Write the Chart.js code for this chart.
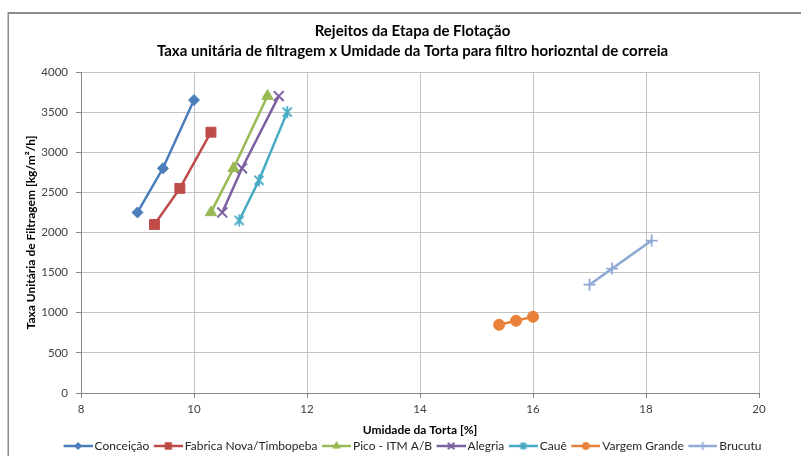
<!DOCTYPE html>
<html>
<head>
<meta charset="utf-8">
<script src="https://cdn.jsdelivr.net/npm/chart.js@4.4.1/dist/chart.umd.min.js"></script>
<style>
  html, body { margin: 0; padding: 0; background: #ffffff; }
  #wrap { width: 801px; height: 456px; position: relative; }
</style>
</head>
<body>
<div id="wrap"><canvas id="chart" width="801" height="456"></canvas></div>
<script>
// Series names (legend order)
const seriesNames = ['Conceição', 'Fabrica Nova/Timbopeba', 'Pico - ITM A/B', 'Alegria', 'Cauê', 'Vargem Grande', 'Brucutu'];

// Umidade da torta [%] and taxa unitária de filtragem [kg/m²/h] per site
const conceicaoUmidade = [9.0, 9.45, 10.0];
const conceicaoTaxa    = [2250, 2800, 3650];
const fabricaUmidade   = [9.3, 9.75, 10.3];
const fabricaTaxa      = [2100, 2550, 3250];
const picoUmidade      = [10.3, 10.7, 11.3];
const picoTaxa         = [2250, 2800, 3700];
const alegriaUmidade   = [10.5, 10.85, 11.5];
const alegriaTaxa      = [2250, 2800, 3700];
const caueUmidade      = [10.8, 11.15, 11.65];
const caueTaxa         = [2150, 2650, 3500];
const vargemUmidade    = [15.4, 15.7, 16.0];
const vargemTaxa       = [850, 900, 950];
const brucutuUmidade   = [17.0, 17.4, 18.1];
const brucutuTaxa      = [1350, 1550, 1900];

// Axis tick values
const xTicks = [8, 10, 12, 14, 16, 18, 20];
const yTicks = [0, 500, 1000, 1500, 2000, 2500, 3000, 3500, 4000];

const FONT = 'Lato, "Liberation Sans", sans-serif';
const colors = ['#4A7EBB', '#BE4B48', '#98B954', '#7D60A0', '#46AAC5', '#E8823A', '#8FA9D6'];

// Asterisk marker: an X with a vertical stroke through it
function asterisk(color, r, lw) {
  const c = document.createElement('canvas');
  const s = Math.ceil(2 * r + lw + 2);
  c.width = s; c.height = s;
  const g = c.getContext('2d');
  const m = s / 2, d = r * 0.75;
  g.strokeStyle = color; g.lineWidth = lw; g.lineCap = 'butt';
  g.beginPath();
  g.moveTo(m - d, m - d); g.lineTo(m + d, m + d);
  g.moveTo(m - d, m + d); g.lineTo(m + d, m - d);
  g.moveTo(m, m - r); g.lineTo(m, m + r);
  g.stroke();
  return c;
}

const markers = [
  { style: 'rectRot', radius: 5.5, border: 1 },
  { style: 'rect', radius: 7, border: 1 },
  { style: 'triangle', radius: 6.5, border: 1 },
  { style: 'crossRot', radius: 7, border: 2 },
  { style: 'asterisk', radius: 6, border: 1.8 },
  { style: 'circle', radius: 5.5, border: 1 },
  { style: 'cross', radius: 6, border: 1.8 }
];

const xs = [conceicaoUmidade, fabricaUmidade, picoUmidade, alegriaUmidade, caueUmidade, vargemUmidade, brucutuUmidade];
const ys = [conceicaoTaxa, fabricaTaxa, picoTaxa, alegriaTaxa, caueTaxa, vargemTaxa, brucutuTaxa];

function pointStyleFor(i, scale) {
  const mk = markers[i];
  if (mk.style === 'asterisk') return asterisk(colors[i], mk.radius * scale, mk.border);
  return mk.style;
}

const datasets = seriesNames.map((name, i) => ({
  label: name,
  data: xs[i].map((x, k) => ({ x: x, y: ys[i][k] })),
  showLine: true,
  borderColor: colors[i],
  backgroundColor: colors[i],
  borderWidth: 2.5,
  pointStyle: pointStyleFor(i, 1),
  pointRadius: markers[i].radius,
  pointBorderWidth: markers[i].border,
  pointBorderColor: colors[i],
  pointBackgroundColor: colors[i]
}));

// Legend icons: a short line with the series marker in the middle
function legendIcon(i) {
  const c = document.createElement('canvas');
  c.width = 33; c.height = 14;
  const g = c.getContext('2d');
  g.strokeStyle = colors[i]; g.fillStyle = colors[i];
  g.lineWidth = 2.5;
  g.beginPath(); g.moveTo(4, 7); g.lineTo(33, 7); g.stroke();
  const mk = markers[i];
  const style = pointStyleFor(i, 0.65);
  g.lineWidth = mk.border;
  Chart.helpers.drawPoint(g, { pointStyle: style, radius: mk.radius * 0.65, borderWidth: mk.border, rotation: 0 }, 18.5, 7);
  return c;
}
const legendIcons = seriesNames.map((_, i) => legendIcon(i));

// Outer frame of the chart
const framePlugin = {
  id: 'frame',
  beforeDraw(chart) {
    const ctx = chart.ctx;
    ctx.save();
    ctx.fillStyle = '#ffffff';
    ctx.fillRect(0, 0, chart.width, chart.height);
    ctx.strokeStyle = '#8c8c8c';
    ctx.lineWidth = 2;
    ctx.beginPath(); ctx.moveTo(8, 13); ctx.lineTo(chart.width, 13); ctx.stroke();
    ctx.lineWidth = 1.5;
    ctx.beginPath(); ctx.moveTo(8.25, 12); ctx.lineTo(8.25, chart.height); ctx.stroke();
    ctx.restore();
  }
};

const plainNumber = (v) => String(v);

new Chart(document.getElementById('chart'), {
  type: 'scatter',
  data: { datasets: datasets },
  plugins: [framePlugin],
  options: {
    responsive: false,
    animation: false,
    devicePixelRatio: 1,
    layout: { padding: { left: 8, right: -16, top: 21, bottom: -6 } },
    plugins: {
      tooltip: { enabled: false },
      title: {
        display: true,
        text: ['Rejeitos da Etapa de Flotação', 'Taxa unitária de filtragem x Umidade da Torta para filtro horiozntal de correia'],
        color: '#000000',
        font: { family: FONT, size: 15, weight: 'bold', lineHeight: 20 / 15 },
        padding: { top: 0, bottom: 11 }
      },
      legend: {
        position: 'bottom',
        labels: {
          usePointStyle: true,
          pointStyleWidth: 25,
          padding: 4.5,
          color: '#262626',
          font: { family: FONT, size: 12 },
          generateLabels: (chart) => chart.data.datasets.map((ds, i) => ({
            text: ds.label,
            pointStyle: legendIcons[i],
            fillStyle: colors[i],
            strokeStyle: colors[i],
            lineWidth: 0,
            hidden: false,
            datasetIndex: i,
            fontColor: '#262626'
          }))
        }
      }
    },
    scales: {
      x: {
        type: 'linear',
        min: 8, max: 20,
        afterBuildTicks: (s) => { s.ticks = xTicks.map(v => ({ value: v })); },
        afterFit: (s) => { s.height = 42.5; },
        grid: { color: '#c4c4c4', tickColor: '#868686', tickLength: 5, lineWidth: 1 },
        border: { color: '#868686', width: 1 },
        ticks: { color: '#404040', padding: 4, font: { family: FONT, size: 11.5 }, callback: plainNumber },
        title: {
          display: true,
          text: 'Umidade da Torta [%]',
          color: '#000000',
          font: { family: FONT, size: 12, weight: 'bold' },
          padding: { top: 0, bottom: -1.5 }
        }
      },
      y: {
        type: 'linear',
        min: 0, max: 4000,
        afterBuildTicks: (s) => { s.ticks = yTicks.map(v => ({ value: v })); },
        afterFit: (s) => { s.width = 73; },
        grid: { color: '#c4c4c4', tickColor: '#868686', tickLength: 5, lineWidth: 1 },
        border: { color: '#868686', width: 1 },
        ticks: { color: '#404040', padding: 8, font: { family: FONT, size: 11.5 }, callback: plainNumber },
        title: {
          display: true,
          text: 'Taxa Unitária de Filtragem [kg/m²/h]',
          color: '#000000',
          font: { family: FONT, size: 12, weight: 'bold' },
          padding: { top: 16, bottom: 0 }
        }
      },
      // empty right-hand margin beside the plot
      margin: {
        type: 'linear',
        position: 'right',
        display: true,
        afterFit: (s) => { s.width = 58; },
        grid: { display: false, drawTicks: false },
        border: { display: false },
        ticks: { display: false }
      }
    }
  }
});
</script>
</body>
</html>
